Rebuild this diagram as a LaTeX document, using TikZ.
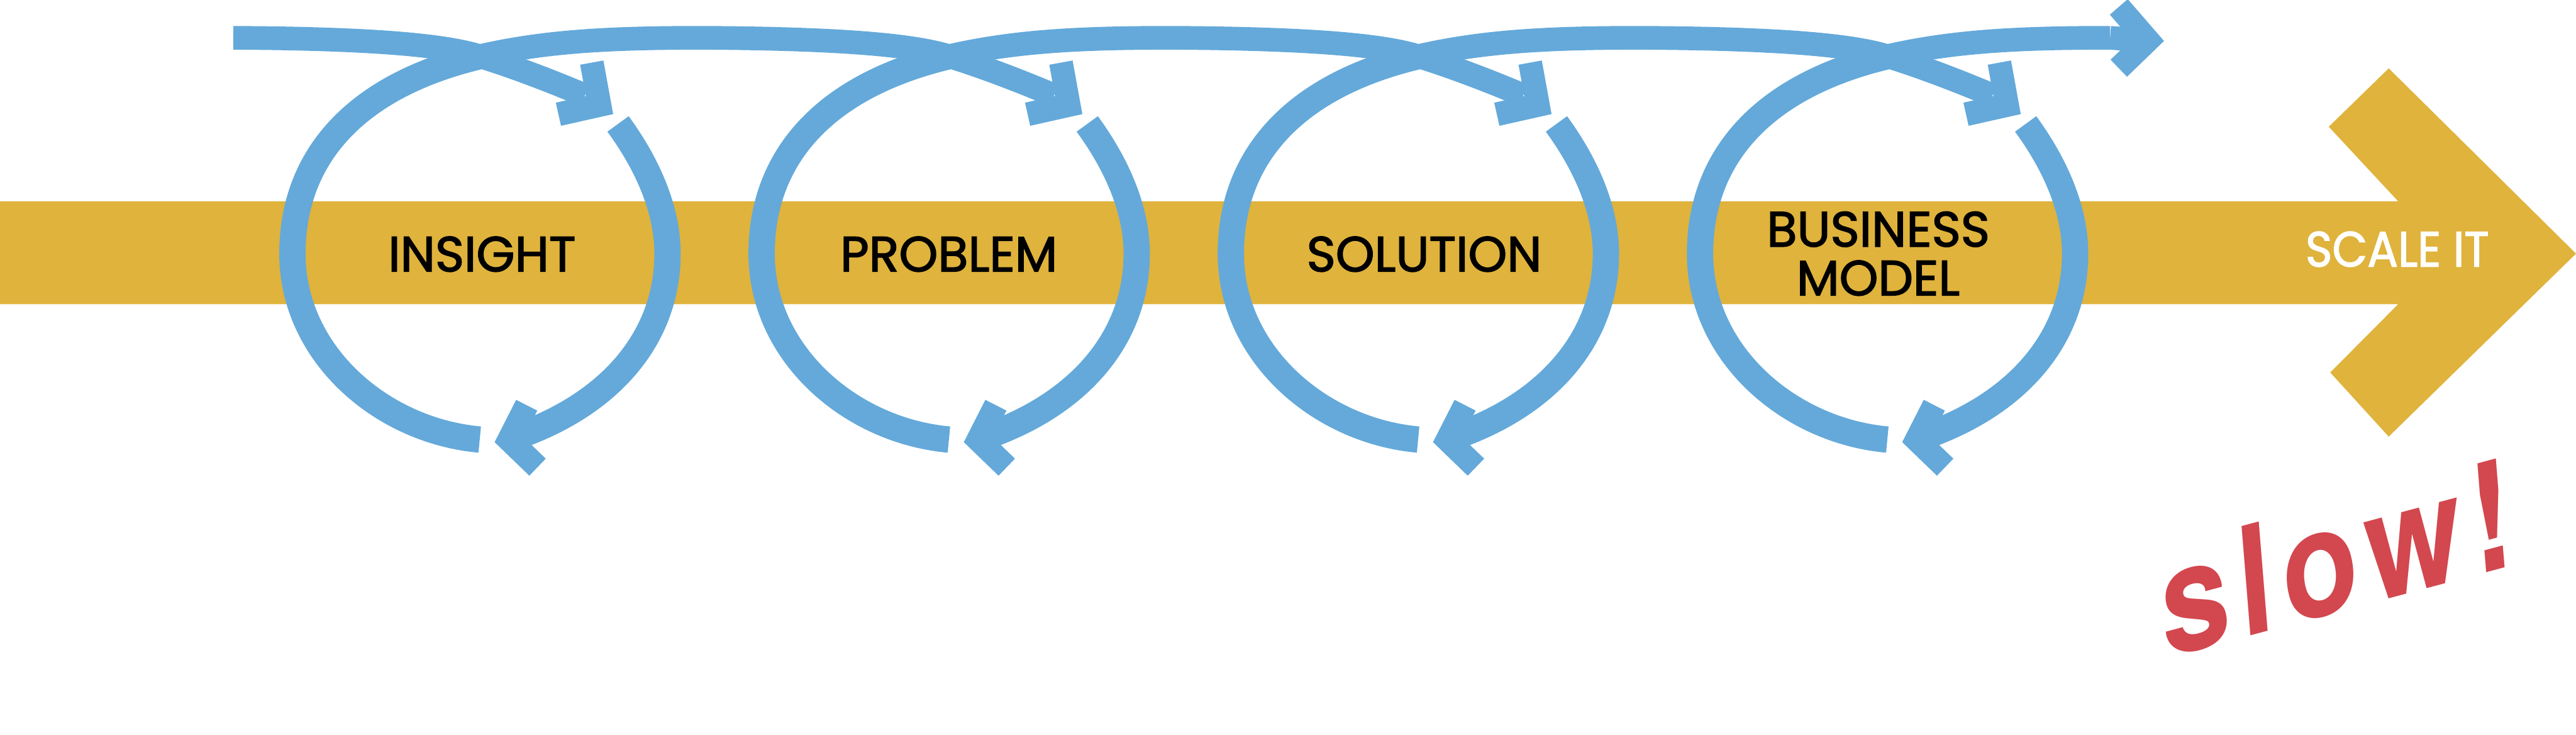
\documentclass[tikz,border=0pt]{standalone}
\usepackage{fontspec}
\usepackage{xcolor}
\usepackage{tikz}
\usetikzlibrary{positioning}
\newfontfamily\stagefont{Poppins}[FakeBold=2]
\newfontfamily\handfont{TeX Gyre Heros}[LetterSpace=8]
\definecolor{loopblue}{RGB}{100,169,218}
\definecolor{bandgold}{RGB}{223,179,60}
\definecolor{slowred}{RGB}{211,71,79}
\tikzset{
    band/.style={fill=bandgold},
    loopline/.style={draw=loopblue, line width=0.36cm, line cap=butt},
    looparc/.style={loopline, line width=0.4cm},
    barb/.style={loopline, line join=miter, miter limit=10},
    stage/.style={font=\stagefont\fontsize{21.4}{21.1}\selectfont, text=black, align=center, inner sep=0pt},
    slowtext/.style={font=\handfont\bfseries\itshape\fontsize{64}{64}\selectfont, text=slowred, rotate=15, inner sep=0pt}
}

\begin{document}
\begin{tikzpicture}[x=0.025cm, y=-0.025cm]
    \useasboundingbox (0,0) rectangle (1568,447.1);

    \fill[band] (0,122.5) -- (1459.8,122.5) -- (1417.5,77.1) -- (1454,41.6) -- (1568,154.3)
        -- (1454,265.6) -- (1418.4,226.6) -- (1459.8,185) -- (0,185) -- cycle;

    \foreach \c in {292,577.6,863.2,1148.8} {
        \draw[loopline] (\c-150,23) .. controls (\c-60,23.5) and (\c-20,28) .. (\c,34.2)
            .. controls (\c+22,41) and (\c+45,50) .. (\c+64,58);
        \draw[barb] (\c+68.2,38.1) -- (\c+72.9,63.9) -- (\c+47.9,69.5);
        \draw[looparc] (\c+84.2,75.4) .. controls (\c+100,97) and (\c+114.3,125) .. (\c+114.3,154.3)
            .. controls (\c+114.3,205) and (\c+80,245) .. (\c+24,265);
        \draw[barb] (\c+28.6,246.5) -- (\c+17.9,267.5) -- (\c+35.2,284.2);
        \draw[looparc] (\c,267.4) .. controls (\c-60,262) and (\c-114,215) .. (\c-114,154.3)
            .. controls (\c-114,95) and (\c-75,52) .. (\c,34.2);
        \draw[loopline] (\c,34.2) .. controls (\c+40,25) and (\c+80,23) .. (\c+135.6,23);
    }
    \draw[loopline] (1284.4,23) -- (1302,24.3);
    \draw[barb] (1289.7,4.2) -- (1307.3,24.5) -- (1289.7,41.5);

    \node[stage] (insight) at (293.4,154.6) {INSIGHT};
    \node[stage] (problem) at (577.6,154.6) {PROBLEM};
    \node[stage] (solution) at (866.9,154.6) {SOLUTION};
    \node[stage] (bizmodel) at (1143.3,154.3) {BUSINESS\\MODEL};
    \node[stage, text=white] (scaleit) at (1459.2,151.6) {\scalebox{0.92}[1]{SCALE IT}};

    \node[slowtext] (slow) at (1419,340) {\scalebox{0.86}[1]{slow!}};
\end{tikzpicture}
\end{document}
